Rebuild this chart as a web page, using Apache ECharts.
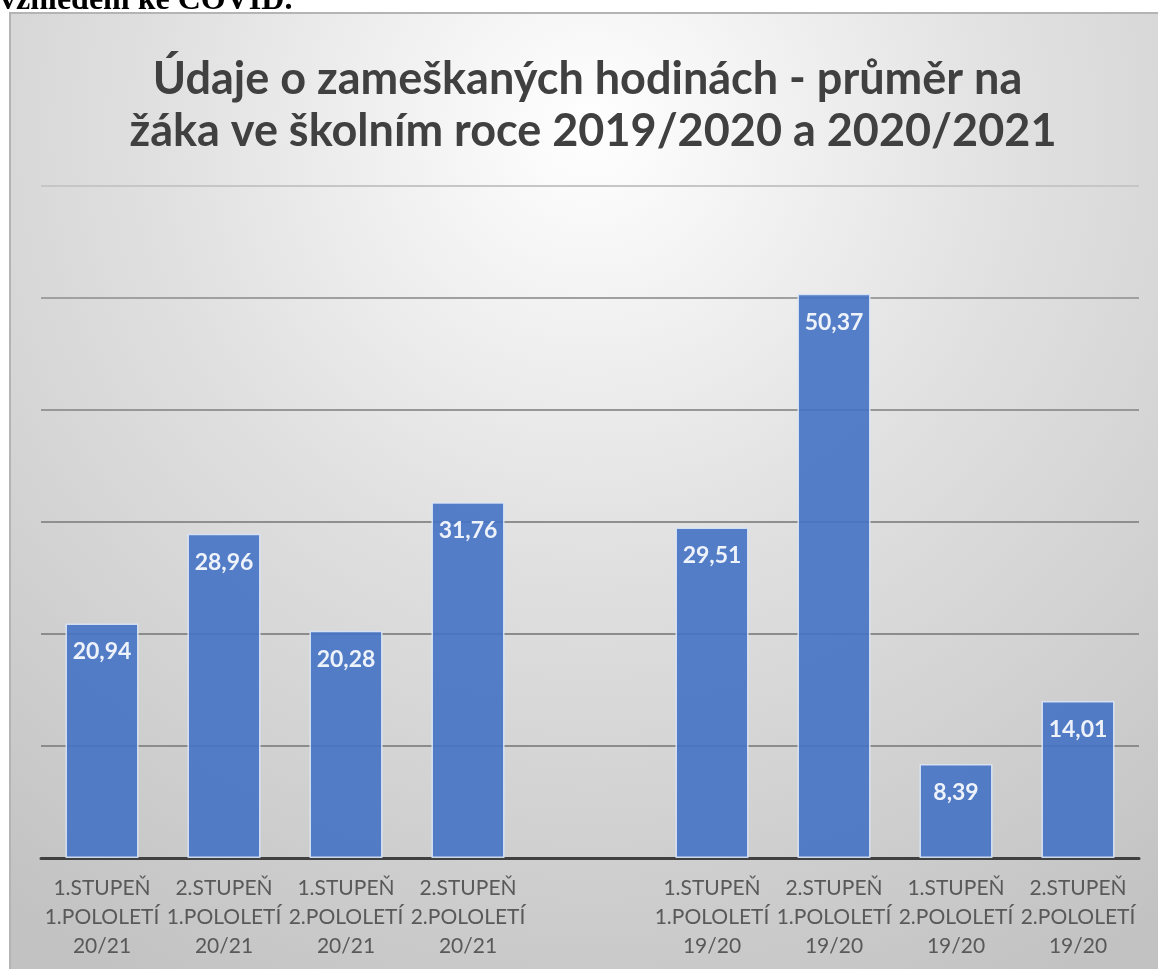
<!DOCTYPE html>
<html>
<head>
<meta charset="utf-8">
<title>Zameškané hodiny</title>
<script src="https://cdn.jsdelivr.net/npm/echarts@6/dist/echarts.min.js"></script>
<style>
  html, body { margin: 0; padding: 0; background: #fff; }
  #chart { width: 1158px; height: 969px; }
</style>
</head>
<body>
<div id="chart"></div>
<script>
// data (one empty slot separates the two school years)
const categories = [
  '1.STUPEŇ\n1.POLOLETÍ\n20/21',
  '2.STUPEŇ\n1.POLOLETÍ\n20/21',
  '1.STUPEŇ\n2.POLOLETÍ\n20/21',
  '2.STUPEŇ\n2.POLOLETÍ\n20/21',
  '',
  '1.STUPEŇ\n1.POLOLETÍ\n19/20',
  '2.STUPEŇ\n1.POLOLETÍ\n19/20',
  '1.STUPEŇ\n2.POLOLETÍ\n19/20',
  '2.STUPEŇ\n2.POLOLETÍ\n19/20'
]
const hours = [20.94, 28.96, 20.28, 31.76, null, 29.51, 50.37, 8.39, 14.01]

const chart = echarts.init(document.getElementById('chart'))

chart.setOption({
  animation: false,
  title: {
    text: 'Údaje o zameškaných hodinách - průměr na \nžáka ve školním roce 2019/2020 a 2020/2021',
    left: 588,
    top: 48,
    textAlign: 'center',
    textStyle: {
      fontFamily: 'Lato',
      fontSize: 45,
      fontWeight: 'bold',
      color: '#404040',
      lineHeight: 52
    }
  },
  graphic: [
    {
      type: 'rect',
      z: -10,
      silent: true,
      shape: { x: 10, y: 13, width: 1160, height: 970 },
      style: {
        fill: new echarts.graphic.RadialGradient(0.5, 0.12, 1, [
          { offset: 0, color: '#ffffff' },
          { offset: 0.45, color: '#e0e0e0' },
          { offset: 1, color: '#c2c2c2' }
        ]),
        stroke: '#b4b4b4',
        lineWidth: 2
      }
    },
    {
      type: 'text',
      left: 0,
      top: -15,
      style: {
        text: 'vzhledem ke COVID.',
        font: 'bold 32px "Liberation Serif"',
        fill: '#000'
      }
    }
  ],
  grid: { left: 41, right: 19, top: 186, bottom: 111 },
  xAxis: {
    type: 'category',
    data: categories,
    axisLine: { lineStyle: { color: '#404040', width: 3 } },
    axisTick: { show: false },
    axisLabel: {
      interval: 0,
      margin: 16,
      fontFamily: 'Lato',
      fontSize: 21,
      lineHeight: 29,
      color: '#595959'
    }
  },
  yAxis: {
    type: 'value',
    min: 0,
    max: 60,
    interval: 10,
    axisLabel: { show: false },
    axisLine: { show: false },
    axisTick: { show: false },
    splitLine: {
      lineStyle: {
        width: 2,
        color: ['#8c8c8c', '#8c8c8c', '#8c8c8c', '#8f8f8f', '#979797', '#a0a0a0', '#c6c6c6']
      }
    }
  },
  series: [{
    type: 'bar',
    data: hours,
    barWidth: 73,
    itemStyle: {
      color: '#4472C4',
      opacity: 0.9,
      borderColor: '#dbe5f6',
      borderWidth: 1.5
    },
    label: {
      show: true,
      position: 'insideTop',
      distance: 17,
      fontFamily: 'Lato',
      fontSize: 23,
      fontWeight: 'bold',
      color: '#ffffff',
      formatter: p => p.value.toFixed(2).replace('.', ',')
    }
  }]
})
</script>
</body>
</html>
